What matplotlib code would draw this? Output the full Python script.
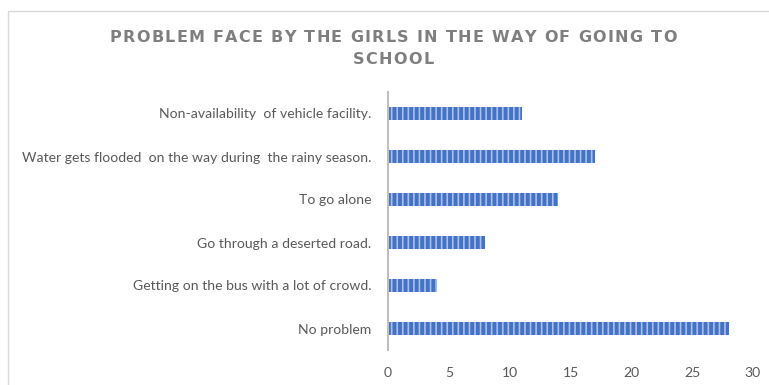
import matplotlib
matplotlib.use("Agg")
import matplotlib.pyplot as plt
from matplotlib.patches import Rectangle
from matplotlib.font_manager import FontProperties
from matplotlib.textpath import TextToPath

# survey answers, listed top to bottom
problems = [
    "Non-availability  of vehicle facility.",
    "Water gets flooded  on the way during  the rainy season.",
    "To go alone",
    "Go through a deserted road.",
    "Getting on the bus with a lot of crowd.",
    "No problem",
]
counts = [11, 17, 14, 8, 4, 28]
xticks = [0, 5, 10, 15, 20, 25, 30]
title_lines = ["PROBLEM FACE BY THE GIRLS IN THE WAY OF GOING TO", "SCHOOL"]

text_col = "#595959"
bar_col = "#4472C4"
W, H, DPI = 769, 385, 100

plt.rcParams["font.family"] = ["Lato", "DejaVu Sans"]
plt.rcParams["hatch.linewidth"] = 1.2

fig = plt.figure(figsize=(W / DPI, H / DPI), dpi=DPI)
ax = fig.add_axes([388 / W, 1 - 350 / H, 365 / W, 258 / H])

pos = list(range(len(problems)))
ax.barh(pos, counts, height=0.29, color=bar_col, edgecolor="#a9c0ea",
        hatch="|||", linewidth=0)

ax.set_ylim(len(problems) - 0.5, -0.5)
ax.set_xlim(0, 30)
ax.set_yticks(pos)
ax.set_yticklabels(problems)
ax.set_xticks(xticks)
ax.tick_params(axis="both", length=0, labelsize=10.1, labelcolor=text_col)
ax.tick_params(axis="y", pad=12)
ax.tick_params(axis="x", pad=12)

for side in ["top", "right", "bottom"]:
    ax.spines[side].set_visible(False)
ax.spines["left"].set_color("#bfbfbf")
ax.spines["left"].set_linewidth(1.5)

# chart frame
fig.patches.append(Rectangle((8 / W, -0.1), 1.1, 1 - 11 / H + 0.1,
                             transform=fig.transFigure, fill=False,
                             edgecolor="#d9d9d9", linewidth=1))

# letter-spaced title, one character at a time
tprop = FontProperties(family="DejaVu Sans", weight="bold", size=11.5)
ttp = TextToPath()


def char_w(c):
    w, _, _ = ttp.get_text_width_height_descent(c, tprop, ismath=False)
    return w * DPI / 72


first = title_lines[0]
track = (567 - sum(char_w(c) for c in first)) / (len(first) - 1)
for line, y in zip(title_lines, [38, 60]):
    widths = [char_w(c) for c in line]
    total = sum(widths) + track * (len(line) - 1)
    x = 393 - total / 2
    for c, w in zip(line, widths):
        fig.text(x / W, 1 - y / H, c, ha="left", va="center",
                 fontproperties=tprop, color="#7f7f7f")
        x += w + track

fig.savefig("out.png", dpi=DPI)
